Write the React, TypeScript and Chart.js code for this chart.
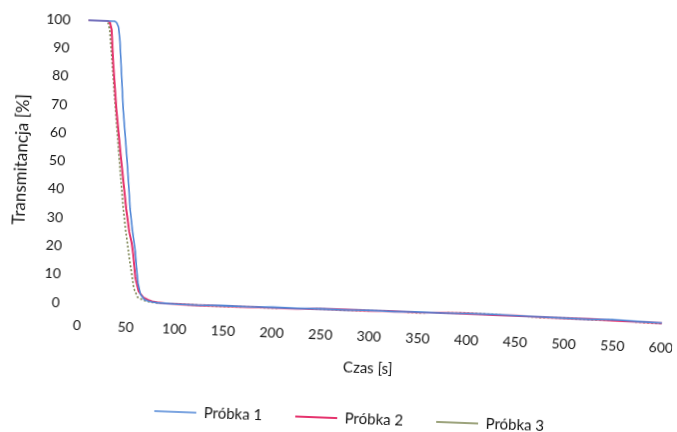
import { useEffect, useRef } from "react";
import { Chart, registerables } from "chart.js";

Chart.register(...registerables);

const seriesNames = ["Próbka 1", "Próbka 2", "Próbka 3"];

const xTickValues = [0, 50, 100, 150, 200, 250, 300, 350, 400, 450, 500, 550, 600];
const yTickValues = [0, 10, 20, 30, 40, 50, 60, 70, 80, 90, 100];

const xTitle = "Czas [s]";
const yTitle = "Transmitancja [%]";

const s1Times = [0, 10, 20, 27, 29, 31, 33, 35, 37, 39, 42, 45, 48, 50, 53, 55, 57, 59, 61, 64, 68, 72, 76, 81, 90, 100, 125, 150, 175, 200, 225, 250, 275, 300, 325, 350, 375, 400, 425, 450, 475, 500, 525, 550, 575, 600];
const s1Values = [100, 100, 100, 100, 99.5, 98, 93, 85, 77, 69, 60, 51, 41, 34, 27, 23, 19, 13, 8, 4, 2.3, 1.8, 1.5, 1.3, 1.2, 1.1, 1.0, 1.2, 1.1, 1.3, 1.2, 1.4, 1.3, 1.5, 1.4, 1.6, 1.5, 1.7, 1.8, 1.6, 1.5, 1.4, 1.3, 1.5, 1.2, 1.0];

const s2Times = [0, 10, 20, 22, 24, 27, 32, 39, 46, 50, 53, 55, 58, 62, 67, 72, 76, 81, 90, 100, 125, 150, 175, 200, 225, 250, 275, 300, 325, 350, 375, 400, 425, 450, 475, 500, 525, 550, 575, 600];
const s2Values = [100, 100, 100, 99.5, 97, 85, 69, 51, 34, 26, 22, 18, 10, 5, 3, 2.2, 1.7, 1.4, 1.2, 1.1, 0.9, 1.1, 1.0, 1.2, 1.1, 1.3, 1.4, 1.3, 1.5, 1.4, 1.6, 1.7, 1.5, 1.6, 1.4, 1.3, 1.4, 1.2, 1.1, 0.9];

const s3Times = [0, 10, 18, 20, 22, 26, 31, 37, 43, 46, 49.7, 52, 54, 57, 61, 67, 72, 76, 81, 90, 100, 125, 150, 175, 200, 225, 250, 275, 300, 325, 350, 375, 400, 425, 450, 475, 500, 525, 550, 575, 600];
const s3Values = [100, 100, 100, 99.5, 97, 85, 69, 51, 34, 27, 19.6, 15, 11.5, 6, 3, 2, 1.6, 1.4, 1.3, 1.2, 1.1, 1.0, 0.9, 1.1, 1.0, 1.2, 1.3, 1.2, 1.4, 1.5, 1.3, 1.6, 1.8, 1.7, 1.5, 1.3, 1.4, 1.2, 1.3, 1.0, 0.8];

const toPoints = (t: number[], v: number[]) => t.map((x, i) => ({ x, y: v[i] }));

export default function App() {
  const ref = useRef<HTMLCanvasElement | null>(null);

  useEffect(() => {
    if (!ref.current) return;
    const textColor = "#161616";
    const chart = new Chart(ref.current, {
      type: "line",
      data: {
        datasets: [
          {
            label: seriesNames[0],
            data: toPoints(s1Times, s1Values),
            borderColor: "#4f86d6",
            backgroundColor: "#4f86d6",
            borderWidth: 1.6,
            pointRadius: 0,
            tension: 0,
            clip: false as any,
          },
          {
            label: seriesNames[1],
            data: toPoints(s2Times, s2Values),
            borderColor: "#e5336d",
            backgroundColor: "#e5336d",
            borderWidth: 2,
            pointRadius: 0,
            tension: 0,
            clip: false as any,
          },
          {
            label: seriesNames[2],
            data: toPoints(s3Times, s3Values),
            borderColor: "#7b8450",
            backgroundColor: "#7b8450",
            borderWidth: 1.6,
            borderDash: [2, 2],
            pointRadius: 0,
            tension: 0,
            clip: false as any,
          },
        ],
      },
      options: {
        animation: false,
        responsive: false,
        devicePixelRatio: 1,
        layout: { padding: { top: 30, left: 37, right: 0, bottom: 4.5 } },
        plugins: {
          tooltip: { enabled: false },
          legend: {
            position: "bottom",
            labels: {
              usePointStyle: true,
              pointStyle: "line",
              pointStyleWidth: 42,
              padding: 33,
              color: textColor,
              font: { family: "Lato", size: 15 },
            },
          },
        },
        scales: {
          x: {
            type: "linear",
            min: 0,
            max: 600,
            grid: { display: false, drawTicks: false },
            border: { display: false },
            afterBuildTicks: (s: any) => {
              s.ticks = xTickValues.map((v) => ({ value: v }));
            },
            afterFit: (s: any) => {
              s.height = 64.2;
              s.paddingRight = 11.2;
              s.paddingLeft = 0;
            },
            ticks: {
              padding: 14,
              color: textColor,
              font: { family: "Lato", size: 14 },
              maxRotation: 0,
              autoSkip: false,
            },
            title: {
              display: true,
              text: xTitle,
              color: textColor,
              font: { family: "Lato", size: 15 },
              padding: { top: 0, bottom: 1.8 },
            },
          },
          y: {
            type: "linear",
            min: 0,
            max: 100,
            grid: { display: false, drawTicks: false },
            border: { display: false },
            afterBuildTicks: (s: any) => {
              s.ticks = yTickValues.map((v) => ({ value: v }));
            },
            afterFit: (s: any) => {
              s.width = 44.3;
            },
            ticks: {
              padding: 18,
              color: textColor,
              font: { family: "Lato", size: 14 },
              autoSkip: false,
            },
            title: {
              display: true,
              text: yTitle,
              color: textColor,
              font: { family: "Lato", size: 17 },
              padding: { top: -27.2, bottom: 0 },
            },
          },
        },
      },
    });
    return () => chart.destroy();
  }, []);

  return (
    <div
      style={{
        position: "fixed",
        left: 0,
        top: 0,
        width: 677,
        height: 432,
        overflow: "hidden",
        background: "#ffffff",
      }}
    >
      <div
        style={{
          position: "absolute",
          left: 0,
          top: 0,
          width: 677,
          height: 440,
          transform: "rotate(2.2deg)",
          transformOrigin: "338.5px 216px",
        }}
      >
        <canvas ref={ref} width={677} height={440} style={{ display: "block" }} />
      </div>
    </div>
  );
}
